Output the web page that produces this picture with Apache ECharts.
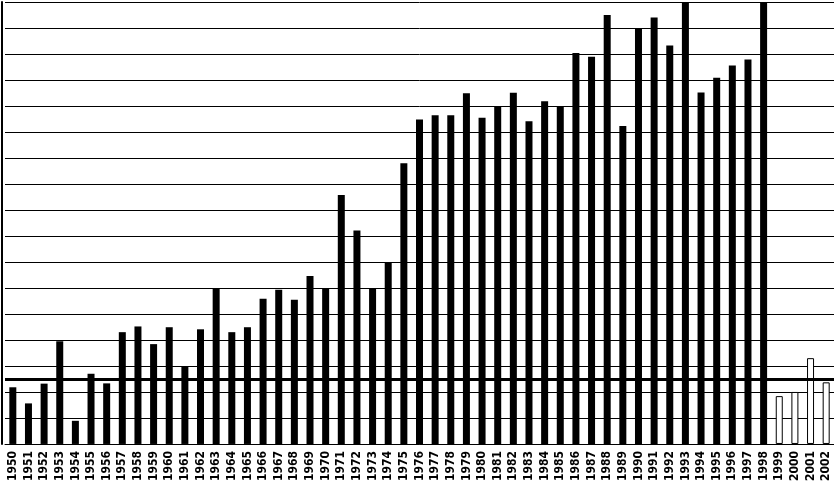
<!DOCTYPE html>
<html>
<head>
<meta charset="utf-8">
<script src="https://cdn.jsdelivr.net/npm/echarts@6/dist/echarts.min.js"></script>
<style>
html,body{margin:0;padding:0;background:#fff;}
#chart{width:834px;height:484px;}
</style>
</head>
<body>
<div id="chart"></div>
<script>
const years = ['1950','1951','1952','1953','1954','1955','1956','1957','1958','1959',
  '1960','1961','1962','1963','1964','1965','1966','1967','1968','1969',
  '1970','1971','1972','1973','1974','1975','1976','1977','1978','1979',
  '1980','1981','1982','1983','1984','1985','1986','1987','1988','1989',
  '1990','1991','1992','1993','1994','1995','1996','1997','1998','1999',
  '2000','2001','2002'];
const values = [2.18,1.56,2.32,3.95,0.89,2.7,2.33,4.3,4.52,3.84,
  4.49,2.98,4.41,5.97,4.3,4.49,5.59,5.93,5.55,6.46,
  5.97,9.58,8.21,5.97,7.0,10.8,12.48,12.64,12.64,13.49,
  12.55,12.99,13.51,12.41,13.18,12.99,15.04,14.89,16.5,12.23,
  16.0,16.4,15.33,17,13.52,14.09,14.56,14.79,17,1.84,
  2.0,3.3,2.37];
const referenceLevel = 2.5;
const hollowYears = ['1999','2000','2001','2002'];

const chart = echarts.init(document.getElementById('chart'), null, {renderer:'canvas'});
const barData = values.map((v, i) => {
  const hollow = hollowYears.includes(years[i]);
  return {
    value: v,
    itemStyle: hollow ? {color:'#fff', borderColor:'#000', borderWidth:1} : {color:'#000'}
  };
});
chart.setOption({
  animation:false,
  backgroundColor:'#fff',
  grid:{left:5, right:0, top:2, bottom:35, containLabel:false},
  xAxis:{
    type:'category',
    data:years,
    axisLine:{show:true, lineStyle:{color:'#000', width:1}},
    axisTick:{show:false},
    axisLabel:{
      interval:0, rotate:90, margin:7,
      color:'#000', fontSize:12, fontWeight:'bold',
      fontFamily:'DejaVu Sans Condensed'
    },
    splitLine:{show:false}
  },
  yAxis:{
    type:'value', min:0, max:17, interval:1,
    offset:3,
    axisLine:{show:true, lineStyle:{color:'#000', width:2}},
    axisTick:{show:false},
    axisLabel:{show:false},
    splitLine:{show:true, lineStyle:{color:'#000', width:1}}
  },
  series:[{
    type:'bar',
    data:barData,
    barWidth:7,
    markLine:{
      silent:true,
      symbol:['none','none'],
      label:{show:false},
      lineStyle:{color:'#000', width:3, type:'solid'},
      data:[{yAxis:referenceLevel}]
    }
  }]
});
</script>
</body>
</html>
